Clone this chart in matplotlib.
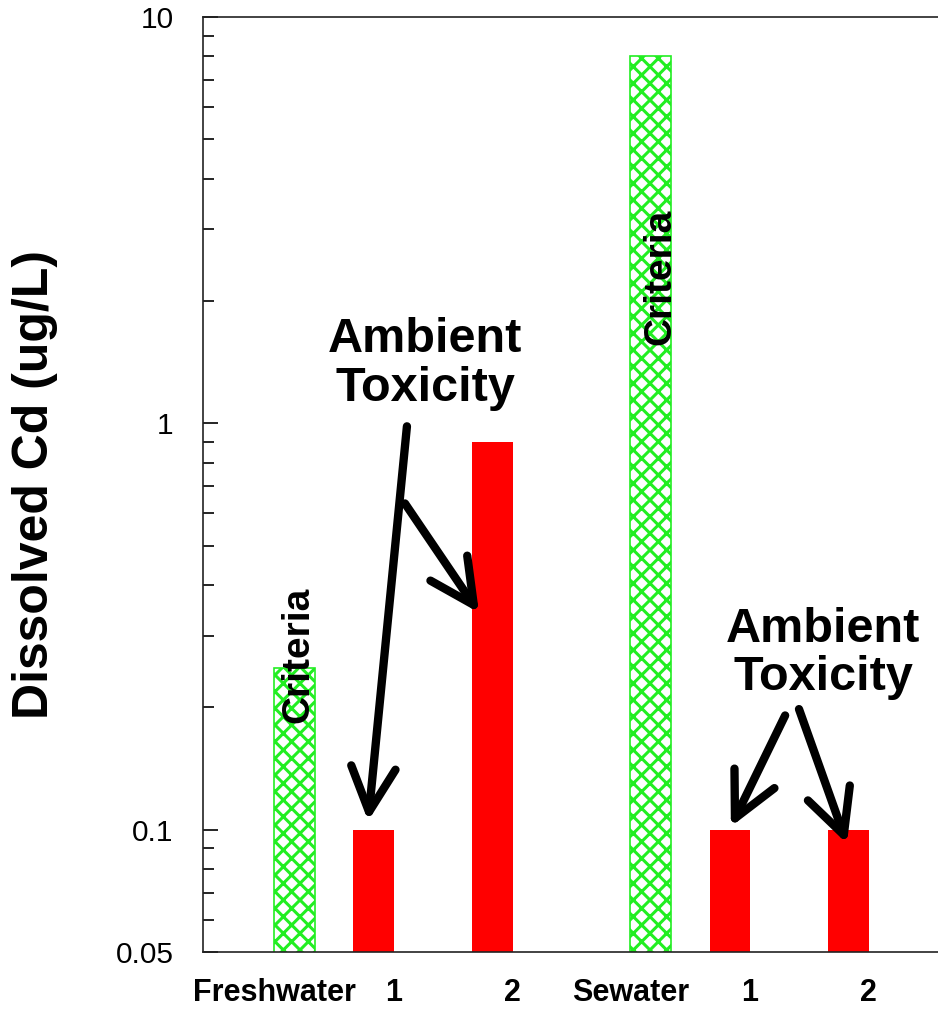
import numpy as np
from matplotlib import pyplot as plt

plt.rcParams['font.family'] = ['Liberation Sans', 'DejaVu Sans']

# bar data
pos_criteria = [0, 9]
val_criteria = [0.25, 8.0]
pos_ambient = [2, 5, 11, 14]
val_ambient = [0.1, 0.9, 0.1, 0.1]

tick_pos = [-0.5, 2.5, 5.5, 8.5, 11.5, 14.5]
tick_lab = ["Freshwater", "1", "2", "Sewater", "1", "2"]

fig = plt.figure(figsize=(9.38, 10.09), dpi=100)
ax = fig.add_axes([0.2164, 0.0565, 0.7836, 0.9267])

plt.rcParams['hatch.linewidth'] = 2.2
plt.rcParams['hatch.color'] = '#22ee22'
ax.bar(pos_criteria, val_criteria, width=1.03, color='white',
       edgecolor='#22ee22', hatch='xx', linewidth=1.2)
ax.bar(pos_ambient, val_ambient, width=1.03, color='#ff0000')

ax.set_yscale('log')
ax.set_ylim(0.05, 10)
ax.set_xlim(-2.31, 16.25)

ax.set_yticks([0.05, 0.1, 1, 10])
ax.set_yticklabels(["0.05", "0.1", "1", "10"])
ax.tick_params(axis='y', which='major', direction='in', length=11, width=1.2,
               labelsize=21.5, pad=21)
ax.tick_params(axis='y', which='minor', direction='in', length=8, width=1.2)
ax.set_xticks(tick_pos)
ax.set_xticklabels(tick_lab, fontsize=22, fontweight='bold')
ax.tick_params(axis='x', length=0, pad=19)

ax.spines['right'].set_visible(False)
for s in ['left', 'top', 'bottom']:
    ax.spines[s].set_linewidth(1.2)
    ax.spines[s].set_color('#222222')

ax.set_ylabel("Dissolved Cd (ug/L)", fontsize=36, fontweight='bold')
ax.yaxis.set_label_coords(-0.197, 0.5)

# labels on criteria bars
ax.text(0.09, 0.27, "Criteria", rotation=90, fontsize=28, fontweight='bold',
        ha='center', va='center')
ax.text(9.23, 2.29, "Criteria", rotation=90, fontsize=28, fontweight='bold',
        ha='center', va='center')

# ambient toxicity callouts
ax.text(3.30, 1.40, "Ambient\nToxicity", fontsize=35, fontweight='bold',
        ha='center', va='center', linespacing=1.1)
ax.text(13.35, 0.271, "Ambient\nToxicity", fontsize=35, fontweight='bold',
        ha='center', va='center', linespacing=1.1)

arrows = [((2.84, 0.983), (1.86, 0.105)),
          ((2.79, 0.635), (4.66, 0.342)),
          ((12.39, 0.191), (11.02, 0.1017)),
          ((12.74, 0.198), (13.95, 0.0924))]
for tail, tip in arrows:
    ax.annotate("", xy=tip, xytext=tail,
                arrowprops=dict(arrowstyle="->,head_length=3.2,head_width=1.6",
                                mutation_scale=10, lw=6, color='black',
                                shrinkA=0, shrinkB=0, capstyle='round',
                                joinstyle='round'))

plt.savefig("out.png", dpi=100)
